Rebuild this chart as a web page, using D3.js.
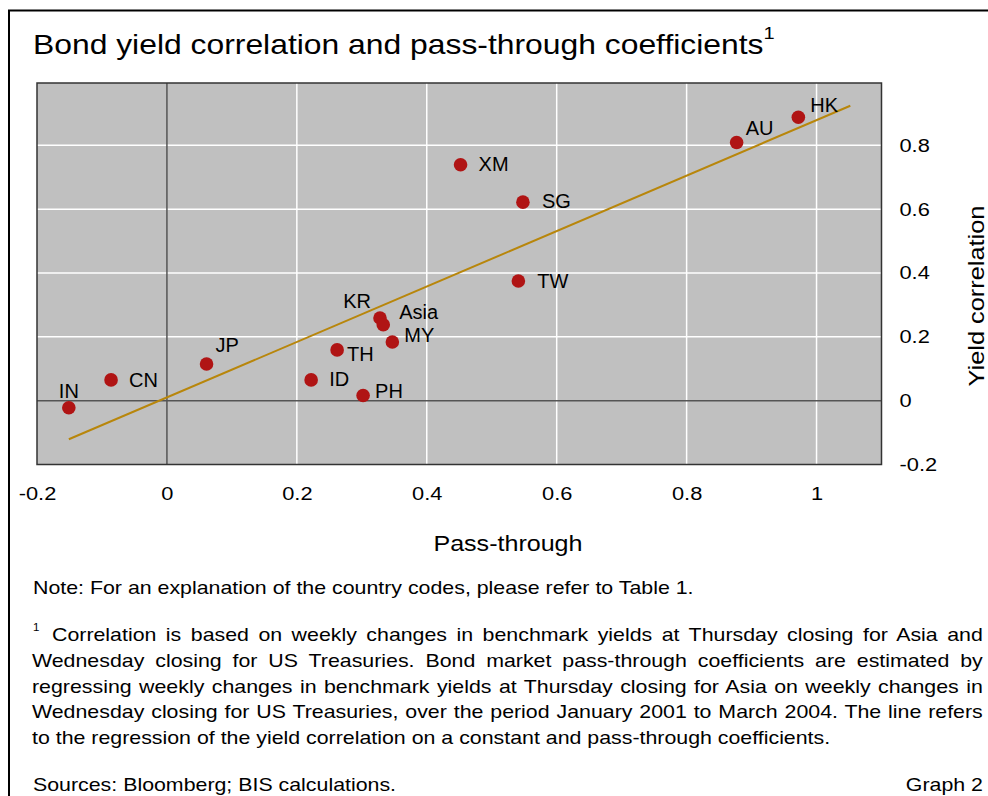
<!DOCTYPE html>
<html>
<head>
<meta charset="utf-8">
<script src="https://cdn.jsdelivr.net/npm/d3@7"></script>
<style>
  html, body { margin: 0; padding: 0; background: #fff; }
  svg { display: block; font-family: "Liberation Sans", Arial, sans-serif; }
</style>
</head>
<body>
<svg id="chart" width="988" height="796"></svg>
<script>
// Economies plotted
const codes = ["IN", "CN", "JP", "ID", "TH", "PH", "KR", "Asia", "MY", "XM", "SG", "TW", "AU", "HK"];
// Bond market pass-through coefficient (x)
const passThrough = [-0.151, -0.086, 0.061, 0.222, 0.262, 0.302, 0.328, 0.333, 0.347, 0.452, 0.548, 0.541, 0.877, 0.972];
// Yield correlation with US Treasuries (y)
const yieldCorr = [-0.022, 0.065, 0.115, 0.065, 0.159, 0.016, 0.259, 0.238, 0.184, 0.739, 0.622, 0.375, 0.809, 0.888];
// Fitted regression line, end points
const fitX = [-0.151, 1.052];
const fitY = [-0.121, 0.924];
// Axis ticks
const xTicks = [-0.2, 0, 0.2, 0.4, 0.6, 0.8, 1];
const yTicks = [-0.2, 0, 0.2, 0.4, 0.6, 0.8];

const svg = d3.select("#chart");

// Widen a text horizontally about its own anchor point
function widen(sel, sx) {
  sel.each(function () {
    const t = d3.select(this);
    const ax = +(t.attr("x") || 0), ay = +(t.attr("y") || 0);
    t.attr("transform", `translate(${ax},${ay}) scale(${sx},1) translate(${-ax},${-ay})`);
  });
  return sel;
}

// Outer frame
svg.append("path")
  .attr("d", "M9,800 L9,10.5 L992,10.5")
  .attr("fill", "none").attr("stroke", "#000").attr("stroke-width", 2);

// Title
const title = svg.append("text").attr("x", 33).attr("y", 54)
  .attr("font-size", 27).attr("fill", "#000");
title.append("tspan").text("Bond yield correlation and pass-through coefficients");
title.append("tspan").attr("font-size", 17).attr("dy", -15).text("1");
widen(title, 1.18);

// Plot area
const plot = { left: 37, right: 881.5, top: 83, bottom: 464.5 };
const x = d3.scaleLinear().domain([-0.2, 1.1]).range([plot.left, plot.right]);
const y = d3.scaleLinear().domain([-0.2, 1.0]).range([plot.bottom, plot.top - 1.5]);

svg.append("rect")
  .attr("x", plot.left).attr("y", plot.top)
  .attr("width", plot.right - plot.left).attr("height", plot.bottom - plot.top)
  .attr("fill", "#c0c0c0");

// White grid lines
const grid = svg.append("g").attr("stroke", "#fff").attr("stroke-width", 1.5);
xTicks.filter(v => v > 0).forEach(v => {
  grid.append("line").attr("x1", x(v)).attr("x2", x(v)).attr("y1", plot.top).attr("y2", plot.bottom);
});
yTicks.filter(v => v > 0).forEach(v => {
  grid.append("line").attr("x1", plot.left).attr("x2", plot.right).attr("y1", y(v)).attr("y2", y(v));
});

// Zero lines
svg.append("line").attr("x1", x(0)).attr("x2", x(0)).attr("y1", plot.top).attr("y2", plot.bottom)
  .attr("stroke", "#555").attr("stroke-width", 1.5);
svg.append("line").attr("x1", plot.left).attr("x2", plot.right).attr("y1", y(0)).attr("y2", y(0))
  .attr("stroke", "#555").attr("stroke-width", 1.5);

// Plot border
svg.append("rect")
  .attr("x", plot.left).attr("y", plot.top)
  .attr("width", plot.right - plot.left).attr("height", plot.bottom - plot.top)
  .attr("fill", "none").attr("stroke", "#333").attr("stroke-width", 1.5);

// Regression line
svg.append("path")
  .datum(fitX.map((v, i) => [v, fitY[i]]))
  .attr("d", d3.line().x(d => x(d[0])).y(d => y(d[1])))
  .attr("fill", "none").attr("stroke", "#b8860b").attr("stroke-width", 2);

// Points
const pts = codes.map((c, i) => ({ code: c, px: passThrough[i], py: yieldCorr[i] }));
svg.append("g").selectAll("circle").data(pts).join("circle")
  .attr("cx", d => x(d.px)).attr("cy", d => y(d.py)).attr("r", 6.8)
  .attr("fill", "#b01414");

// Label placement around each point (dx, dy, anchor)
const labelPos = {
  IN: [0, -10, "middle"], CN: [18, 7, "start"], JP: [9, -12, "start"],
  ID: [18, 6, "start"], TH: [10, 11, "start"], PH: [12, 2, "start"],
  KR: [-9, -10, "end"], Asia: [16, -6, "start"], MY: [12, 0, "start"],
  XM: [18, 6, "start"], SG: [19, 6, "start"], TW: [19, 7, "start"],
  AU: [9, -7, "start"], HK: [12, -5, "start"]
};
svg.append("g").selectAll("text").data(pts).join("text")
  .attr("x", d => x(d.px) + labelPos[d.code][0])
  .attr("y", d => y(d.py) + labelPos[d.code][1])
  .attr("text-anchor", d => labelPos[d.code][2])
  .attr("font-size", 20).attr("fill", "#000")
  .text(d => d.code);

// Axes (tick labels only); plain hyphen for negatives
const fmt = d => String(+d.toFixed(1));
const xAxis = svg.append("g").attr("transform", `translate(0,${plot.bottom})`)
  .call(d3.axisBottom(x).tickValues(xTicks).tickSize(0).tickPadding(22).tickFormat(fmt));
xAxis.select(".domain").remove();
widen(xAxis.selectAll("text").attr("font-size", 18.5).attr("fill", "#000")
  .attr("font-family", "Liberation Sans, Arial, sans-serif"), 1.18);

const yAxis = svg.append("g").attr("transform", `translate(${plot.right},0)`)
  .call(d3.axisRight(y).tickValues(yTicks).tickSize(0).tickPadding(18).tickFormat(fmt));
yAxis.select(".domain").remove();
widen(yAxis.selectAll("text").attr("font-size", 18.5).attr("fill", "#000")
  .attr("font-family", "Liberation Sans, Arial, sans-serif"), 1.18);

// Axis titles
widen(svg.append("text").attr("x", x(0.525)).attr("y", 551).attr("text-anchor", "middle")
  .attr("font-size", 22).text("Pass-through"), 1.14);
svg.append("text").attr("transform", `translate(984,296) rotate(-90) scale(1.18,1)`)
  .attr("text-anchor", "middle").attr("font-size", 21.5).text("Yield correlation");

// Notes
const noteSize = 17.5;
const noteSx = 1.22;
widen(svg.append("text").attr("x", 33).attr("y", 594).attr("font-size", noteSize)
  .text("Note: For an explanation of the country codes, please refer to Table 1."), noteSx);

svg.append("text").attr("x", 33).attr("y", 631).attr("font-size", 11.5).text("1");
const para = [
  "Correlation is based on weekly changes in benchmark yields at Thursday closing for Asia and",
  "Wednesday closing for US Treasuries. Bond market pass-through coefficients are estimated by",
  "regressing weekly changes in benchmark yields at Thursday closing for Asia on weekly changes in",
  "Wednesday closing for US Treasuries, over the period January 2001 to March 2004. The line refers",
  "to the regression of the yield correlation on a constant and pass-through coefficients."
];
const paraLeft = [52, 32, 32, 32, 32];
const paraRight = 983;
para.forEach((line, i) => {
  const t = svg.append("text").attr("x", paraLeft[i]).attr("y", 641.5 + i * 25.6)
    .attr("font-size", noteSize).text(line);
  if (i < para.length - 1) {
    const natural = t.node().getComputedTextLength();
    const spaces = line.split(" ").length - 1;
    t.attr("word-spacing", ((paraRight - paraLeft[i]) / noteSx - natural) / spaces);
  }
  widen(t, noteSx);
});

widen(svg.append("text").attr("x", 33).attr("y", 791).attr("font-size", noteSize)
  .text("Sources: Bloomberg; BIS calculations."), noteSx);
widen(svg.append("text").attr("x", 983).attr("y", 791).attr("text-anchor", "end").attr("font-size", noteSize)
  .text("Graph 2"), noteSx);
</script>
</body>
</html>
